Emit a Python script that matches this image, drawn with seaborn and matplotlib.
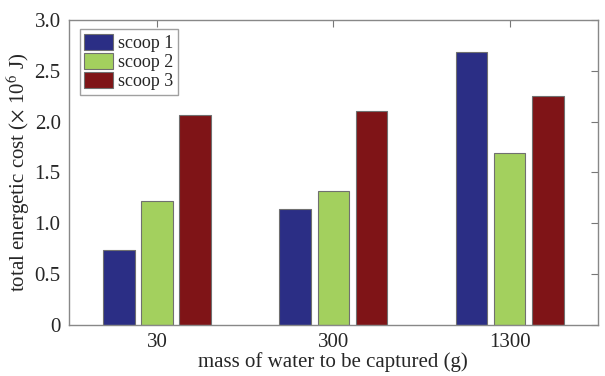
import matplotlib
matplotlib.use('Agg')
import matplotlib.pyplot as plt
import seaborn as sns
import pandas as pd

masses = ['30', '300', '1300']
scoops = ['scoop 1', 'scoop 2', 'scoop 3']
scoop1 = [0.74, 1.14, 2.68]
scoop2 = [1.22, 1.32, 1.69]
scoop3 = [2.065, 2.10, 2.25]
colors = ['#2b2e85', '#a3d05e', '#7f1417']

rows = []
for s, vals in zip(scoops, [scoop1, scoop2, scoop3]):
    for m, v in zip(masses, vals):
        rows.append({'mass': m, 'scoop': s, 'cost': v})
df = pd.DataFrame(rows)

sns.set_style('white')
plt.rcParams['font.family'] = ['Liberation Serif', 'DejaVu Serif']
plt.rcParams['mathtext.fontset'] = 'stix'

fig = plt.figure(figsize=(6.05, 3.76), dpi=100)
ax = fig.add_axes([0.114, 0.136, 0.874, 0.811])
sns.barplot(data=df, x='mass', y='cost', hue='scoop', order=masses, hue_order=scoops,
            palette=colors, width=0.65, gap=0.17, edgecolor='#707070', linewidth=0.8,
            saturation=1, ax=ax)

ax.set_xlim(-0.5, 2.5)
ax.set_ylim(0, 3.0)
ax.set_yticks([0, 0.5, 1.0, 1.5, 2.0, 2.5, 3.0])
ax.set_yticklabels(['0', '0.5', '1.0', '1.5', '2.0', '2.5', '3.0'])
ax.tick_params(direction='in', length=5, top=True, right=True, labelsize=15,
               color='#777777', pad=6)
for sp in ax.spines.values():
    sp.set_color('#888888')
    sp.set_linewidth(1.0)
ax.set_xlabel('mass of water to be captured (g)', fontsize=15, labelpad=0)
ax.set_ylabel(r'total energetic cost ($\times$ 10$^6$ J)', fontsize=15, labelpad=2)

leg = ax.legend(loc='upper left', fontsize=13, frameon=True, fancybox=False,
                edgecolor='#888888', handlelength=1.6, handleheight=1.0,
                handletextpad=0.3, labelspacing=0.05, borderpad=0.25,
                borderaxespad=0.0, bbox_to_anchor=(0.02, 0.97))
leg.get_frame().set_linewidth(1.0)

fig.savefig('out.png', dpi=100)
